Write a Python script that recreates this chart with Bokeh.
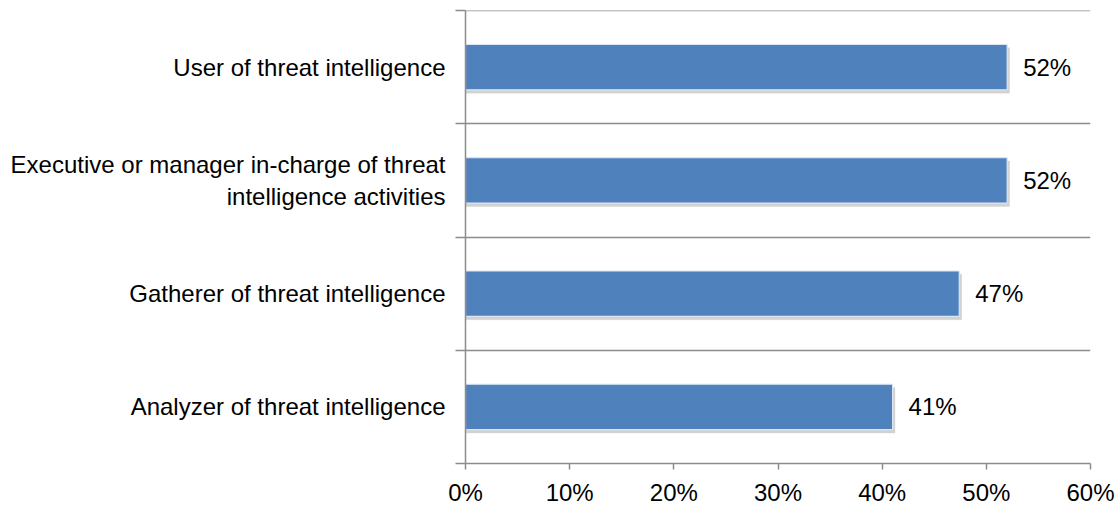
from bokeh.plotting import figure
from bokeh.models import FixedTicker, ColumnDataSource, Range1d, Span
from bokeh.core.properties import value
from bokeh.embed import file_html
from bokeh.resources import INLINE

categories = [
    "Analyzer of threat intelligence",
    "Gatherer of threat intelligence",
    "Executive or manager in-charge of threat\nintelligence activities",
    "User of threat intelligence",
]
values = [41.0, 47.4, 52.0, 52.0]
x_ticks = [0, 10, 20, 30, 40, 50, 60]
x_tick_labels = ["0%", "10%", "20%", "30%", "40%", "50%", "60%"]

FONT = "Liberation Sans"
FS = "24px"
BAR = "#4F81BD"
GRID = "#8C8C8C"
TXT = "#000000"

ypos = [i + 0.5 for i in range(len(categories))]
labels = ["%d%%" % round(v) for v in values]
src = ColumnDataSource(dict(y=ypos, v=values, lab=labels,
                            ys=[y - 0.03 for y in ypos], vs=[v + 0.25 for v in values]))

p = figure(width=1120, height=508, output_backend="svg", toolbar_location=None,
           x_range=Range1d(0, 60), y_range=Range1d(0, len(categories)))
p.min_border_left = 465
p.min_border_right = 30
p.min_border_top = 10
p.min_border_bottom = 43
p.outline_line_color = None
p.background_fill_color = "white"
p.border_fill_color = "white"

# grid: horizontal lines at category boundaries
p.xgrid.visible = False
p.ygrid.ticker = FixedTicker(ticks=list(range(len(categories) + 1)))
p.ygrid.grid_line_color = GRID
p.ygrid.grid_line_width = 1.5
p.add_layout(Span(location=len(categories), dimension="width", line_color=GRID, line_width=1.5))

# shadow
p.hbar(y="ys", right="vs", left=0, height=0.4, source=src, fill_color="#000000",
       fill_alpha=0.12, line_color=None)
p.hbar(y="ys", right="vs", left=0, height=0.41, source=src, fill_color="#000000",
       fill_alpha=0.06, line_color=None)
p.hbar(y="y", right="v", left=0, height=0.4, source=src, fill_color=BAR,
       line_color="#dce6f2", line_width=1.2)

p.text(x="v", y="y", text="lab", source=src, x_offset=16, text_baseline="middle",
       text_align="left", text_font=value(FONT), text_font_size=FS, text_color=TXT)

# x axis
xa = p.xaxis[0]
xa.ticker = FixedTicker(ticks=x_ticks)
xa.major_label_overrides = {t: l for t, l in zip(x_ticks, x_tick_labels)}
xa.minor_tick_line_color = None
xa.major_tick_out = 6
xa.major_tick_in = 0
xa.major_tick_line_color = GRID
xa.major_tick_line_width = 1.5
xa.axis_line_color = GRID
xa.axis_line_width = 1.5
xa.major_label_text_font = FONT
xa.major_label_text_font_size = FS
xa.major_label_text_color = TXT
xa.major_label_standoff = 9

# y axis
ya = p.yaxis[0]
ya.ticker = FixedTicker(ticks=ypos, minor_ticks=list(range(len(categories) + 1)))
ya.major_label_overrides = {y: c for y, c in zip(ypos, categories)}
ya.major_tick_line_color = None
ya.major_tick_out = 0
ya.major_tick_in = 0
ya.minor_tick_out = 10
ya.minor_tick_in = 0
ya.minor_tick_line_color = GRID
ya.minor_tick_line_width = 1.5
ya.axis_line_color = GRID
ya.axis_line_width = 1.5
ya.major_label_text_font = FONT
ya.major_label_text_font_size = FS
ya.major_label_text_color = TXT
ya.major_label_standoff = 10

open("out.html", "w").write(file_html(p, INLINE))
